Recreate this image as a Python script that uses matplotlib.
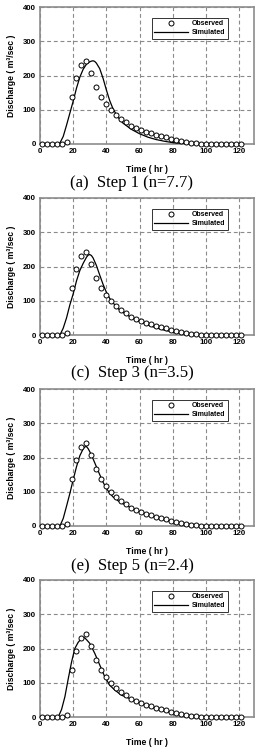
import matplotlib
matplotlib.use("Agg")
import matplotlib.pyplot as plt
from matplotlib.lines import Line2D

# ---------------- data ----------------
obs_t = [1, 4, 7, 10, 13, 16, 19, 22, 25, 28, 31, 34, 37, 40, 43, 46, 49, 52, 55, 58,
         61, 64, 67, 70, 73, 76, 79, 82, 85, 88, 91, 94, 97, 100, 103, 106, 109, 112,
         115, 118, 121]
obs_q = [0, 0, 0, 0, 0, 5, 137, 193, 230, 242, 206, 166, 137, 116, 98, 84, 73, 63, 53, 47,
         41, 35, 31, 26, 22, 19, 15, 12, 9, 6, 4, 2, 1, 0, 0, 0, 0, 0,
         0, 0, 0]

sim1_t = [0, 11, 12, 14, 16, 18, 20, 22, 24, 26, 28, 30, 31, 32, 33, 34, 36, 38, 40, 42, 44, 46,
          48, 50, 55, 60, 65, 70, 75, 80, 85, 90, 95, 122]
sim1_q = [0, 0, 3, 22, 55, 90, 125, 163, 195, 218, 233, 240, 242, 243, 241, 236, 220, 192, 158, 127,
          103, 86, 72, 61, 43, 30, 20, 13, 8, 4, 2, 1, 0, 0]

sim2_t = [0, 12, 14, 16, 18, 20, 22, 24, 26, 28, 29, 30, 31, 32, 34, 36, 38, 40, 42, 44, 46, 48,
          50, 55, 60, 65, 70, 75, 80, 85, 90, 95, 100, 122]
sim2_q = [0, 0, 20, 50, 88, 120, 158, 188, 209, 227, 233, 235, 232, 225, 203, 175, 148, 125, 107, 94,
          83, 73, 66, 51, 39, 29, 21, 14, 9, 5, 3, 1, 0, 0]

sim3_t = [0, 12, 14, 16, 18, 20, 22, 24, 26, 27, 28, 29, 30, 32, 34, 36, 38, 40, 42, 44, 46, 48,
          50, 55, 60, 65, 70, 75, 80, 85, 90, 95, 100, 105, 122]
sim3_q = [0, 0, 22, 58, 95, 135, 173, 205, 225, 231, 232, 226, 217, 196, 173, 150, 128, 110, 96, 85,
          78, 70, 65, 53, 42, 33, 25, 18, 12, 8, 5, 2, 1, 0, 0]

sim4_t = [0, 11, 13, 15, 17, 19, 21, 23, 25, 26, 27, 28, 30, 33, 36, 39, 42, 45, 49, 55, 60,
          65, 70, 75, 80, 85, 90, 95, 100, 105, 122]
sim4_q = [0, 0, 22, 59, 111, 160, 200, 218, 229, 232, 231, 226, 215, 186, 152, 118, 93, 79, 64,
          52, 42, 33, 25, 18, 12, 8, 5, 2, 1, 0, 0]

captions = ["(a)  Step 1 (n=7.7)", "(c)  Step 3 (n=3.5)", "(e)  Step 5 (n=2.4)", None]
x_ticks = [0, 20, 40, 60, 80, 100, 120]
y_ticks = [0, 100, 200, 300, 400]

sims = [(sim1_t, sim1_q), (sim2_t, sim2_q), (sim3_t, sim3_q), (sim4_t, sim4_q)]

# ---------------- layout ----------------
W, H = 260, 748
fig = plt.figure(figsize=(W / 100, H / 100), dpi=100)
fig.patch.set_facecolor("white")

tops = [7, 198, 389, 580]
bottoms = [144, 335, 526, 717]
cap_y = [183, 373, 566, None]
left, right = 40, 254

for i in range(4):
    top, bot = tops[i], bottoms[i]
    ax = fig.add_axes([left / W, 1 - bot / H, (right - left) / W, (bot - top) / H])
    st, sq = sims[i]
    ax.plot(st, sq, color="black", lw=0.9, zorder=3)
    ax.plot(obs_t, obs_q, ls="none", marker="o", ms=3.6, mfc="white", mec="black",
            mew=0.7, zorder=4, clip_on=False)
    ax.set_xlim(0, 129)
    ax.set_ylim(0, 400)
    ax.set_xticks(x_ticks)
    ax.set_yticks(y_ticks)
    ax.grid(True, color="#8a8a8a", ls=(0, (3.5, 2.5)), lw=0.8)
    ax.set_axisbelow(True)
    ax.tick_params(length=0, pad=3)
    for lab in ax.get_xticklabels() + ax.get_yticklabels():
        lab.set_fontfamily("Liberation Sans")
        lab.set_fontweight("bold")
        lab.set_fontsize(5.7)
    for sp in ax.spines.values():
        sp.set_color("#8c8c8c")
        sp.set_linewidth(1.2)
    ax.set_xlabel("Time ( hr )", fontfamily="Liberation Sans", fontweight="bold",
                  fontsize=6.2, labelpad=7)
    ax.set_ylabel("Discharge ( m\u00b3/sec )", fontfamily="Liberation Sans",
                  fontweight="bold", fontsize=6.2, labelpad=5)
    handles = [Line2D([], [], ls="none", marker="o", ms=3.6, mfc="white", mec="black",
                      mew=0.7),
               Line2D([], [], color="black", lw=0.9)]
    leg = ax.legend(handles, ["Observed", "Simulated"], loc="upper left",
                    bbox_to_anchor=(0.523, 0.92), borderaxespad=0,
                    prop=dict(family="Liberation Sans", weight="bold", size=5.0),
                    handlelength=4.8, handletextpad=0.6, labelspacing=0.3,
                    borderpad=0.35, frameon=True, fancybox=False)
    leg.get_frame().set_edgecolor("black")
    leg.get_frame().set_linewidth(0.7)
    if captions[i]:
        fig.text(132 / W, 1 - cap_y[i] / H, captions[i], ha="center", va="center",
                 fontfamily="Liberation Serif", fontsize=12)

fig.savefig("out.png", dpi=100)
